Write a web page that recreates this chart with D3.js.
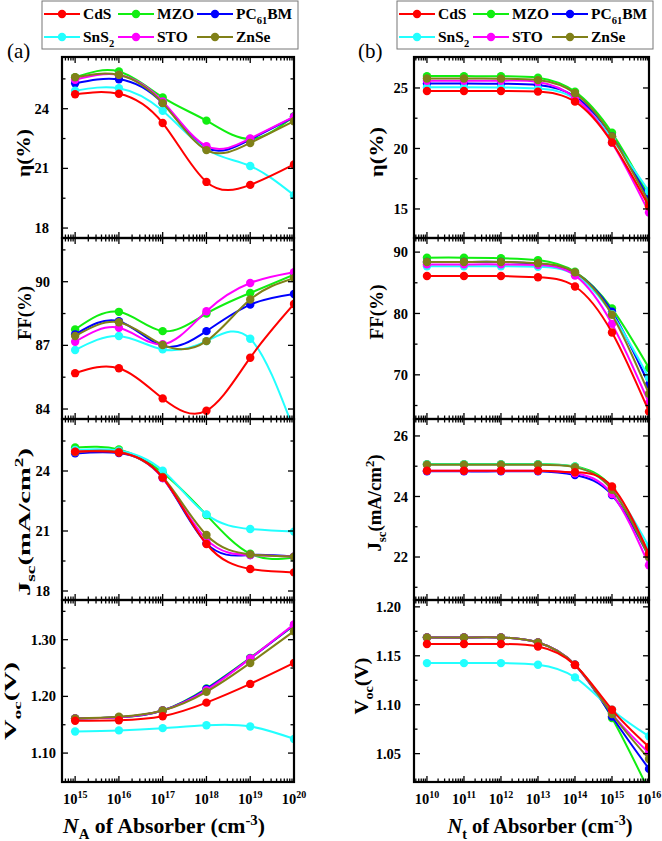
<!DOCTYPE html>
<html>
<head>
<meta charset="utf-8">
<script src="https://d3js.org/d3.v7.min.js"></script>
<style>
    body { margin: 0; background: #fff; }
    text { font-family: "Liberation Serif", "Times New Roman", serif; fill: #000; }
</style>
</head>
<body>
<svg id="chart" width="662" height="841" style="background:#fff;"></svg>
<script>
// ---- data (order follows the materials list) ----
const materials = ["CdS", "MZO", "PC61BM", "SnS2", "STO", "ZnSe"];
const colors = ["#ff0000", "#11ee11", "#0000ff", "#22ffff", "#ff00ff", "#808018"];

const naExp = [15, 16, 17, 18, 19, 20];       // N_A of absorber, log10
const ntExp = [10, 11, 12, 13, 14, 15, 16];   // N_t of absorber, log10

const etaA = [
    [24.73, 24.75, 23.28, 20.32, 20.17, 21.2],
    [25.58, 25.87, 24.57, 23.4, 22.48, 23.62],
    [25.28, 25.48, 24.28, 22.03, 22.45, 23.58],
    [24.9, 25.03, 23.9, 21.95, 21.12, 19.65],
    [25.45, 25.7, 24.37, 22.12, 22.5, 23.6],
    [25.58, 25.7, 24.28, 21.92, 22.28, 23.37]
];
const ffA = [
    [85.69, 85.92, 84.5, 83.92, 86.42, 88.95],
    [87.75, 88.58, 87.67, 88.5, 89.47, 90.33],
    [87.52, 88.14, 86.97, 87.67, 88.92, 89.42],
    [86.78, 87.44, 86.81, 87.2, 87.31, 83.0],
    [87.17, 87.83, 87.05, 88.61, 89.94, 90.45],
    [87.44, 88.09, 87.02, 87.2, 89.16, 90.17]
];
const jscA = [
    [24.97, 24.92, 23.67, 20.35, 19.1, 18.93],
    [25.18, 25.08, 23.92, 21.8, 19.86, 19.68],
    [24.88, 24.9, 23.65, 20.38, 19.8, 19.72],
    [25.05, 25.02, 24.02, 21.83, 21.1, 20.97],
    [24.95, 24.95, 23.65, 20.58, 19.8, 19.72],
    [24.95, 24.95, 23.7, 20.8, 19.83, 19.72]
];
const vocA = [
    [1.157, 1.158, 1.165, 1.189, 1.222, 1.259],
    [1.161, 1.163, 1.175, 1.214, 1.268, 1.325],
    [1.161, 1.163, 1.175, 1.213, 1.267, 1.326],
    [1.138, 1.140, 1.144, 1.149, 1.147, 1.125],
    [1.161, 1.163, 1.175, 1.211, 1.267, 1.327],
    [1.161, 1.164, 1.175, 1.208, 1.259, 1.315]
];

const etaB = [
    [24.75, 24.75, 24.75, 24.7, 23.87, 20.5, 15.2],
    [25.98, 25.98, 25.97, 25.85, 24.7, 21.3, 16.06],
    [25.36, 25.36, 25.35, 25.25, 24.3, 21.0, 15.8],
    [25.05, 25.05, 25.04, 24.95, 24.1, 20.8, 16.47],
    [25.6, 25.6, 25.6, 25.5, 24.2, 20.47, 14.7],
    [25.78, 25.78, 25.77, 25.65, 24.56, 21.0, 15.5]
];
const ffB = [
    [86.1, 86.1, 86.1, 85.9, 84.4, 76.9, 64.0],
    [89.1, 89.1, 89.0, 88.7, 86.8, 80.8, 71.1],
    [88.4, 88.4, 88.4, 88.1, 86.6, 80.3, 68.4],
    [87.7, 87.7, 87.7, 87.6, 86.3, 79.9, 69.5],
    [88.0, 88.0, 88.0, 87.9, 86.2, 78.3, 65.4],
    [88.4, 88.4, 88.4, 88.2, 86.7, 79.8, 66.9]
];
const jscB = [
    [24.85, 24.85, 24.85, 24.85, 24.8, 24.33, 22.1],
    [25.07, 25.07, 25.07, 25.07, 24.99, 24.3, 22.12],
    [24.83, 24.83, 24.83, 24.83, 24.71, 24.05, 22.01],
    [25.06, 25.06, 25.06, 25.06, 24.98, 24.25, 22.34],
    [24.85, 24.85, 24.85, 24.85, 24.77, 24.08, 21.73],
    [25.05, 25.05, 25.05, 25.05, 24.97, 24.22, 22.0]
];
const vocB = [
    [1.162, 1.162, 1.162, 1.1595, 1.1405, 1.0949, 1.0568],
    [1.1687, 1.1687, 1.1687, 1.1636, 1.1408, 1.0864, 1.012],
    [1.1687, 1.1687, 1.1687, 1.1636, 1.1408, 1.088, 1.0344],
    [1.1425, 1.1425, 1.1425, 1.1408, 1.1279, 1.0949, 1.0677],
    [1.1687, 1.1687, 1.1687, 1.1636, 1.1408, 1.091, 1.0507],
    [1.1687, 1.1687, 1.1687, 1.1636, 1.1408, 1.0905, 1.0446]
];

const svg = d3.select("#chart");
const rowTop = [57, 238, 419, 600, 782];
const drawOrder = [1, 2, 3, 4, 5, 0];   // red ends up on top

// text with sub/superscript pieces
function rich(sel, parts, size) {
    let shift = 0;
    parts.forEach(p => {
        const target = p[1] === "sub" ? size * 0.3 : p[1] === "sup" ? -size * 0.4 : 0;
        const t = sel.append("tspan")
            .attr("dy", target - shift)
            .attr("font-size", p[1] ? size * 0.68 : size)
            .text(p[0]);
        if (p[2]) t.attr("font-style", "italic");
        shift = target;
    });
}

function drawPanel(id, cfg) {
    const x = d3.scaleLog().domain(cfg.xDomain).range(cfg.xRange);
    const [L, R] = cfg.xRange;

    // minor x ticks (2..9 per decade)
    const minorX = [];
    for (let d = Math.floor(Math.log10(cfg.xDomain[0])); d < Math.log10(cfg.xDomain[1]); d++) {
        for (let k = 2; k <= 9; k++) {
            const v = k * Math.pow(10, d);
            if (v > cfg.xDomain[0] && v < cfg.xDomain[1]) minorX.push(v);
        }
    }
    const majorX = cfg.xExp.map(e => Math.pow(10, e));

    cfg.rows.forEach((r, i) => {
        const y0 = rowTop[i], y1 = rowTop[i + 1];
        const y = d3.scaleLinear().domain(r.domain).range([y1, y0]);
        const g = svg.append("g");

        g.append("clipPath").attr("id", id + "clip" + i)
            .append("rect").attr("x", L).attr("y", y0).attr("width", R - L).attr("height", y1 - y0);

        const plot = g.append("g").attr("clip-path", "url(#" + id + "clip" + i + ")");
        const line = d3.line()
            .x(d => x(Math.pow(10, d[0])))
            .y(d => y(d[1]))
            .curve(d3.curveNatural);

        drawOrder.forEach(s => {
            const pts = cfg.xExp.map((e, j) => [e, r.data[s][j]]);
            plot.append("path")
                .attr("d", line(pts))
                .attr("fill", "none")
                .attr("stroke", colors[s])
                .attr("stroke-width", 2);
            plot.selectAll(null).data(pts).join("circle")
                .attr("cx", d => x(Math.pow(10, d[0])))
                .attr("cy", d => y(d[1]))
                .attr("r", 4.2)
                .attr("fill", colors[s]);
        });

        // ticks, all inward
        const tk = g.append("g").attr("stroke", "#000").attr("stroke-width", 1.3);
        r.major.forEach(v => {
            tk.append("line").attr("x1", L).attr("x2", L + 6).attr("y1", y(v)).attr("y2", y(v));
            tk.append("line").attr("x1", R - 6).attr("x2", R).attr("y1", y(v)).attr("y2", y(v));
        });
        r.minor.forEach(v => {
            tk.append("line").attr("x1", L).attr("x2", L + 3.5).attr("y1", y(v)).attr("y2", y(v));
            tk.append("line").attr("x1", R - 3.5).attr("x2", R).attr("y1", y(v)).attr("y2", y(v));
        });
        majorX.forEach(v => {
            tk.append("line").attr("x1", x(v)).attr("x2", x(v)).attr("y1", y1).attr("y2", y1 - 6);
            tk.append("line").attr("x1", x(v)).attr("x2", x(v)).attr("y1", y0).attr("y2", y0 + 6);
        });
        minorX.forEach(v => {
            tk.append("line").attr("x1", x(v)).attr("x2", x(v)).attr("y1", y1).attr("y2", y1 - 3.5);
            tk.append("line").attr("x1", x(v)).attr("x2", x(v)).attr("y1", y0).attr("y2", y0 + 3.5);
        });

        g.append("rect")
            .attr("x", L).attr("y", y0).attr("width", R - L).attr("height", y1 - y0)
            .attr("fill", "none").attr("stroke", "#000").attr("stroke-width", 2.2);

        // y tick labels
        g.selectAll(null).data(r.major).join("text")
            .attr("x", L - r.gap)
            .attr("y", d => y(d))
            .attr("dy", "0.35em")
            .attr("text-anchor", "end")
            .attr("font-size", 14.5)
            .attr("font-weight", "bold")
            .text(d => r.fmt(d));

        // y title
        const t = g.append("text")
            .attr("transform", "translate(" + r.title.x + "," + r.title.y + ") rotate(-90)")
            .attr("text-anchor", "middle")
            .attr("font-weight", "bold")
            .attr("textLength", r.title.len)
            .attr("lengthAdjust", "spacingAndGlyphs");
        rich(t, r.title.parts, r.title.size || 18);
    });

    // x tick labels
    const bottom = rowTop[4];
    cfg.xExp.forEach(e => {
        const t = svg.append("text")
            .attr("x", x(Math.pow(10, e)))
            .attr("y", bottom + 22)
            .attr("text-anchor", "middle")
            .attr("font-weight", "bold");
        t.append("tspan").attr("font-size", 14.5).text("10");
        t.append("tspan").attr("font-size", 10).attr("dy", -6).text(e);
    });

    // x title
    const xt = svg.append("text")
        .attr("x", cfg.xTitle.x)
        .attr("y", 833)
        .attr("text-anchor", "middle")
        .attr("font-weight", "bold")
        .attr("textLength", cfg.xTitle.len)
        .attr("lengthAdjust", "spacingAndGlyphs");
    rich(xt, cfg.xTitle.parts, 20);

    // panel label
    svg.append("text")
        .attr("x", cfg.tag.x).attr("y", 58)
        .attr("font-size", 21).attr("font-weight", "normal")
        .text(cfg.tag.text);

    // legend
    const lg = svg.append("g").attr("transform", "translate(" + cfg.legendX + ",1)");
    lg.append("rect").attr("width", 256).attr("height", 48)
        .attr("fill", "#fff").attr("stroke", "#777").attr("stroke-width", 1);
    const colOff = [2, 76, 155], rowY = [13, 36];
    const names = [
        [["CdS"]], [["MZO"]], [["PC"], ["61", "sub"], ["BM"]],
        [["SnS"], ["2", "sub"]], [["STO"]], [["ZnSe"]]
    ];
    materials.forEach((m, i) => {
        const cx = colOff[i % 3], cy = rowY[Math.floor(i / 3)];
        lg.append("line").attr("x1", cx).attr("x2", cx + 36).attr("y1", cy).attr("y2", cy)
            .attr("stroke", colors[i]).attr("stroke-width", 2);
        lg.append("circle").attr("cx", cx + 18).attr("cy", cy).attr("r", 4.2).attr("fill", colors[i]);
        const t = lg.append("text").attr("x", cx + 39).attr("y", cy + 5).attr("font-weight", "bold");
        rich(t, names[i], 15.5);
    });
}

const f0 = d => d3.format("d")(d);
const f2 = d => d3.format(".2f")(d);

const etaTitle = [["η(%)"]];
const ffTitle = [["FF(%)"]];
const jscTitle = [["J"], ["sc", "sub"], ["(mA/cm"], ["2", "sup"], [")"]];
const vocTitle = [["V"], ["oc", "sub"], ["(V)"]];

drawPanel("a", {
    xExp: naExp,
    xDomain: [Math.pow(10, 14.7), 1e20],
    xRange: [62, 294],
    legendX: 42,
    tag: { x: 7, text: "(a)" },
    xTitle: { x: 164, len: 202, parts: [["N", null, true], ["A", "sub"], [" of Absorber (cm"], ["-3", "sup"], [")"]] },
    rows: [
        { data: etaA, domain: [17.5, 26.6], major: [18, 21, 24], minor: [19.5, 22.5, 25.5], fmt: f0, gap: 13,
          title: { x: 30, y: 153, len: 48, parts: etaTitle } },
        { data: ffA, domain: [83.53, 92.06], major: [84, 87, 90], minor: [85.5, 88.5, 91.5], fmt: f0, gap: 12,
          title: { x: 31, y: 313, len: 54, parts: ffTitle } },
        { data: jscA, domain: [17.55, 26.6], major: [18, 21, 24], minor: [19.5, 22.5, 25.5], fmt: f0, gap: 12,
          title: { x: 30, y: 522, len: 148, size: 17, parts: jscTitle } },
        { data: vocA, domain: [1.049, 1.37], major: [1.1, 1.2, 1.3], minor: [1.15, 1.25, 1.35], fmt: f2, gap: 6,
          title: { x: 16, y: 701, len: 78, size: 16.5, parts: vocTitle } }
    ]
});

drawPanel("b", {
    xExp: ntExp,
    xDomain: [Math.pow(10, 9.65), 1e16],
    xRange: [414, 649],
    legendX: 397,
    tag: { x: 358, text: "(b)" },
    xTitle: { x: 540, len: 185, parts: [["N", null, true], ["t", "sub"], [" of Absorber (cm"], ["-3", "sup"], [")"]] },
    rows: [
        { data: etaB, domain: [12.6, 27.56], major: [15, 20, 25], minor: [17.5, 22.5, 27.5], fmt: f0, gap: 6,
          title: { x: 383, y: 152, len: 50, parts: etaTitle } },
        { data: ffB, domain: [62.8, 92.3], major: [70, 80, 90], minor: [65, 75, 85], fmt: f0, gap: 6,
          title: { x: 383, y: 312, len: 55, parts: ffTitle } },
        { data: jscB, domain: [20.58, 26.56], major: [22, 24, 26], minor: [21, 23, 25], fmt: f0, gap: 6,
          title: { x: 381, y: 503, len: 97, parts: jscTitle } },
        { data: vocB, domain: [1.021, 1.207], major: [1.05, 1.1, 1.15, 1.2], minor: [1.075, 1.125, 1.175], fmt: f2, gap: 13,
          title: { x: 368, y: 686, len: 57, parts: vocTitle } }
    ]
});
</script>
</body>
</html>
